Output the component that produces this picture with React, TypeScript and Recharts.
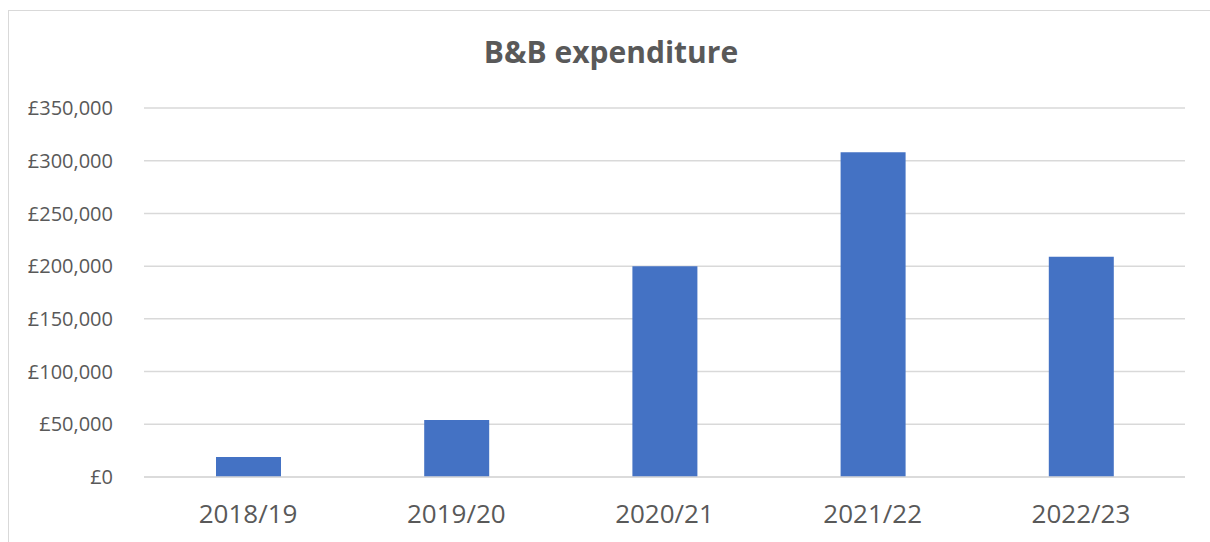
import React from 'react';
import { BarChart, Bar, XAxis, YAxis, CartesianGrid } from 'recharts';

const years = ['2018/19', '2019/20', '2020/21', '2021/22', '2022/23'];
const spend = [19000, 54000, 200000, 308000, 209000];
const yTicks = [0, 50000, 100000, 150000, 200000, 250000, 300000, 350000];

const data = years.map((year, i) => ({ year, spend: spend[i] }));

const FONT = '"Open Sans", sans-serif';
const TEXT = '#595959';
const GRID = '#D9D9D9';

const money = (v: number) => `£${v.toLocaleString('en-GB')}`;

export default function App() {
    return (
        <div style={{ padding: '10px 0 0 8px', width: 1202, height: 532, overflow: 'hidden' }}>
            <style>{'html,body{margin:0;overflow:hidden}'}</style>
            <div
                style={{
                    width: 1201,
                    height: 531,
                    borderTop: `1px solid ${GRID}`,
                    borderLeft: `1px solid ${GRID}`,
                    fontFamily: FONT,
                }}
            >
                <BarChart
                    width={1201}
                    height={531}
                    data={data}
                    margin={{ top: 97, right: 25, bottom: 5, left: 0 }}
                >
                    <text
                        x={602}
                        y={52}
                        textAnchor="middle"
                        fill={TEXT}
                        style={{ fontFamily: FONT, fontSize: 30, fontWeight: 700 }}
                    >
                        B&amp;B expenditure
                    </text>
                    <CartesianGrid vertical={false} stroke={GRID} strokeWidth={1.5} />
                    <XAxis
                        dataKey="year"
                        axisLine={{ stroke: GRID, strokeWidth: 1.5 }}
                        tickLine={false}
                        tickSize={0}
                        tickMargin={28}
                        height={60}
                        tick={{ fill: TEXT, fontSize: 26, fontFamily: FONT }}
                    />
                    <YAxis
                        domain={[0, 350000]}
                        ticks={yTicks}
                        tickFormatter={money}
                        axisLine={false}
                        tickLine={false}
                        tickSize={0}
                        tickMargin={31}
                        width={135}
                        tick={{ fill: TEXT, fontSize: 20, fontFamily: FONT }}
                    />
                    <Bar dataKey="spend" fill="#4472C4" barSize={65} isAnimationActive={false} />
                </BarChart>
            </div>
        </div>
    );
}
